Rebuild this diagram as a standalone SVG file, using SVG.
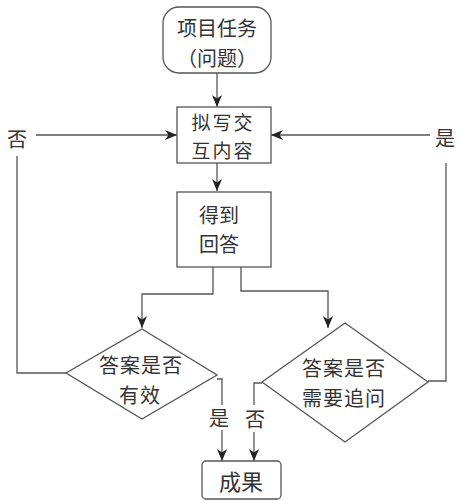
<svg xmlns="http://www.w3.org/2000/svg" width="459" height="501" viewBox="0 0 459 501">
<style>
.box{fill:#fff;stroke:#555;stroke-width:1.3}
.ln{fill:none;stroke:#555;stroke-width:1.3}
.t{font-family:"Noto Sans CJK SC","Noto Sans",sans-serif;font-size:20px;fill:#333;text-anchor:middle;dominant-baseline:central}
</style>
<defs>
<marker id="ah" viewBox="0 0 12 10" refX="12" refY="5" markerWidth="12" markerHeight="10" markerUnits="userSpaceOnUse" orient="auto">
<path d="M0,0 L12,5 L0,10 L3.5,5 Z" fill="#222"/>
</marker>
</defs>
<rect width="459" height="501" fill="#fff"/>
<g id="connectors">
<path class="ln" d="M217,73 V107" marker-end="url(#ah)"/>
<path class="ln" d="M217,163 V191" marker-end="url(#ah)"/>
<path class="ln" d="M36,135 H177" marker-end="url(#ah)"/>
<path class="ln" d="M430,135 H271" marker-end="url(#ah)"/>
<path class="ln" d="M17,156 V373 H66"/>
<path class="ln" d="M446,163 V381 H428"/>
<path class="ln" d="M213,267 V294 H142 V328" marker-end="url(#ah)"/>
<path class="ln" d="M241,267 V291 H328 V328" marker-end="url(#ah)"/>
<path class="ln" d="M217,379 H222 V405"/>
<path class="ln" d="M222,430 V461" marker-end="url(#ah)"/>
<path class="ln" d="M262,383 H254 V405"/>
<path class="ln" d="M254,432 V461" marker-end="url(#ah)"/>
<text class="t" x="17" y="138">否</text>
<text class="t" x="445" y="137">是</text>
<text class="t" x="219" y="417">是</text>
<text class="t" x="255" y="418">否</text>
</g>
<g id="task">
<rect class="box" x="163" y="7" width="108" height="66" rx="16"/>
<text class="t" x="217" y="27" style="font-size:20px">项目任务</text>
<text class="t" x="217" y="57" style="font-size:20px">（问题）</text>
</g>
<g id="draft">
<rect class="box" x="177" y="107" width="94" height="56"/>
<text class="t" x="223" y="121" style="font-size:19px;letter-spacing:2px">拟写交</text>
<text class="t" x="223" y="149" style="font-size:19px;letter-spacing:2px">互内容</text>
</g>
<g id="answer">
<rect class="box" x="177" y="192" width="94" height="75"/>
<text class="t" x="219" y="214" style="font-size:20px">得到</text>
<text class="t" x="219" y="243" style="font-size:20px">回答</text>
</g>
<g id="valid">
<polygon class="box" points="142,329 217,375 142,419 66,373"/>
<text class="t" x="141" y="364" style="font-size:20px;letter-spacing:1px">答案是否</text>
<text class="t" x="140" y="394" style="font-size:20px;letter-spacing:1px">有效</text>
</g>
<g id="followup">
<polygon class="box" points="345,323 428,382 345,442 262,382"/>
<text class="t" x="344" y="367" style="font-size:20px;letter-spacing:1px">答案是否</text>
<text class="t" x="344" y="397" style="font-size:20px;letter-spacing:1px">需要追问</text>
</g>
<g id="result">
<rect class="box" x="202" y="461" width="79" height="38" rx="4"/>
<text class="t" x="241" y="480" style="font-size:22px">成果</text>
</g>
</svg>
